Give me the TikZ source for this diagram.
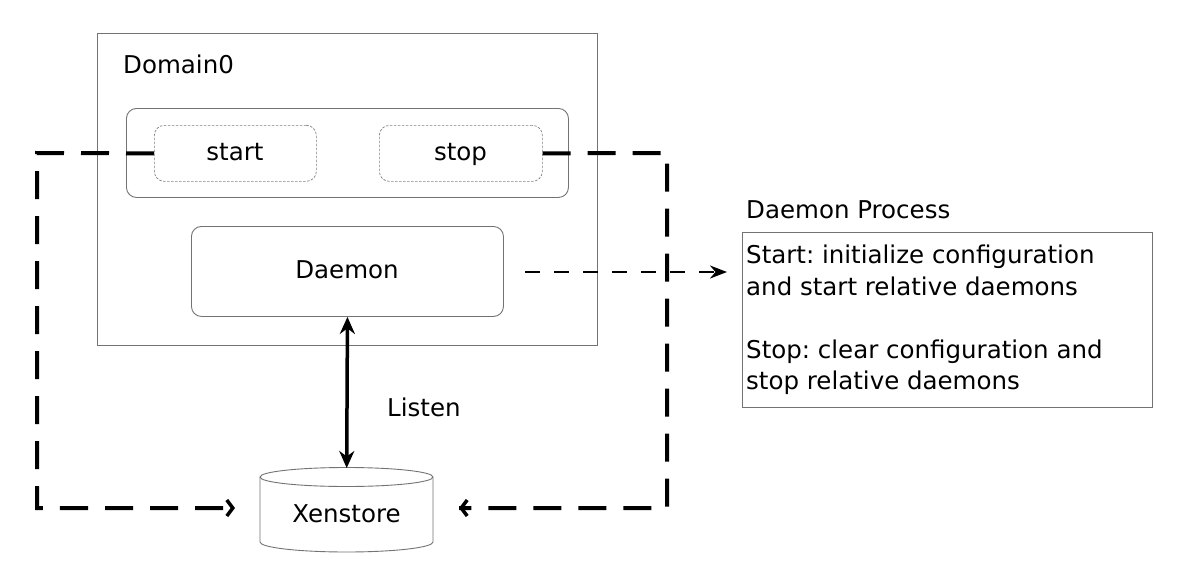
\documentclass[tikz,border=0pt]{standalone}
\usepackage{fontspec}
\setmainfont{DejaVu Sans}
\usetikzlibrary{arrows.meta,calc}
\begin{document}
\frenchspacing
\begin{tikzpicture}[x=1pt,y=-1pt,
  every node/.style={font=\fontsize{24.5}{30}\selectfont, text=black, inner sep=0pt},
  box/.style={draw=black!55, line width=0.9pt, inner sep=0pt},
  rbox/.style={box, rounded corners=10pt},
  dbox/.style={draw=black!50, line width=0.7pt, dash pattern=on 2.5pt off 1.5pt, rounded corners=10pt, inner sep=0pt},
  lbl/.style={anchor=base},
  lblw/.style={anchor=base west},
  thickdash/.style={line width=4pt, dash pattern=on 28pt off 17pt},
  thindash/.style={line width=2.5pt, dash pattern=on 15pt off 14pt},
  barb/.style={-{Straight Barb[length=6pt,width=16pt,line width=3.5pt]}}
]
\useasboundingbox (0,0) rectangle (1200,565);
\fill[white] (0,0) rectangle (1200,565);

% Domain0 box
\node[box, anchor=north west, minimum width=500pt, minimum height=312pt] (dom) at (97,33) {};
\node[lblw] (domlbl) at (123,73) {Domain0};

% inner group
\node[rbox, anchor=north west, minimum width=442pt, minimum height=89pt] (grp) at (126,108) {};
\node[dbox, anchor=north west, minimum width=162pt, minimum height=56pt] (start) at (154,125) {};
\node[lbl] (starttxt) at (235,160) {start};
\node[dbox, anchor=north west, minimum width=163pt, minimum height=56pt] (stop) at (379,125) {};
\node[lbl] (stoptxt) at (460.5,160) {stop};

% Daemon
\node[rbox, anchor=north west, minimum width=312pt, minimum height=90pt] (daemon) at (191,226) {};
\node[lbl] (daemontxt) at (347,278) {Daemon};

% Xenstore (drawn cylinder)
\node[anchor=north west, minimum width=173pt, minimum height=84pt] (xs) at (260,468) {};
\draw[draw=black!55, line width=0.9pt]
  (433,477) arc[start angle=0, end angle=360, x radius=86.5, y radius=9.5];
\draw[draw=black!55, line width=0.9pt]
  (260,477) -- (260,542) arc[start angle=180, end angle=0, x radius=86.5, y radius=10] -- (433,477);
\node[lbl] (xstxt) at (346.5,522) {Xenstore};

% Listen arrow
\draw[line width=3.5pt, {Stealth[length=17pt,width=15pt]}-{Stealth[length=17pt,width=15pt]}]
  (daemon.south) -- (xs.north);
\node[lblw] (listen) at (387,416) {Listen};

% Daemon process box
\node[lblw] (dplbl) at (746,218) {Daemon Process};
\node[box, anchor=north west, minimum width=410pt, minimum height=175pt] (proc) at (742,232) {};
\node[lblw] (p1) at (746,263) {Start: initialize configuration};
\node[lblw] (p2) at (746,295) {and start relative daemons};
\node[lblw] (p3) at (746,358) {Stop: clear configuration and};
\node[lblw] (p4) at (746,389) {stop relative daemons};

% dashed loops
\coordinate (la) at (235,508);
\coordinate (ra) at (459,508);
\draw[thickdash] (start.west) -- (37,153) -- (37,508) -- (la);
\draw[barb] ($(la)+(-1,0)$) -- (la);
\draw[thickdash] (stop.east) -- (667,153) -- (667,508) -- (ra);
\draw[barb] ($(ra)+(1,0)$) -- (ra);

% daemon to process
\coordinate (dst) at (525,272);
\coordinate (dend) at (727,272);
\draw[thindash, -{Stealth[length=17pt,width=13pt]}] (dst) -- (dend);
\end{tikzpicture}
\end{document}
